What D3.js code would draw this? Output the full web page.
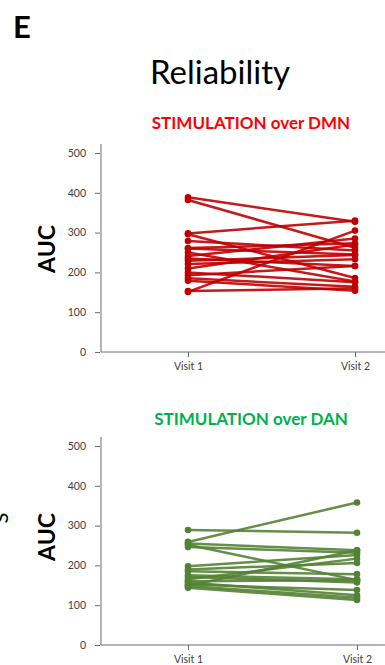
<!DOCTYPE html>
<html lang="en">
<head>
    <meta charset="UTF-8">
    <title>Reliability</title>
    <script src="https://d3js.org/d3.v7.min.js"></script>
    <style>
        body { margin: 0; background: #fff; }
        svg text { font-family: Lato, "Liberation Sans", sans-serif; }
    </style>
</head>
<body>
    <div id="chart"></div>
    <script>
        // data (AUC per subject, visit 1 -> visit 2)
        var visits = ['Visit 1', 'Visit 2'];
        var yTicks = [0, 100, 200, 300, 400, 500];
        var dmnVisit1 = [389, 382, 298, 296, 279, 261, 250, 241, 229, 221, 210, 193, 185, 179, 151, 153, 200, 235, 260];
        var dmnVisit2 = [327, 262, 330, 186, 255, 273, 177, 285, 244, 233, 270, 216, 164, 154, 305, 160, 175, 216, 245];
        var danVisit1 = [289, 259, 252, 246, 255, 198, 190, 185, 171, 165, 157, 149, 144, 152, 160, 148, 175];
        var danVisit2 = [282, 358, 163, 232, 238, 226, 206, 178, 157, 217, 125, 238, 113, 138, 163, 119, 165];

        var width = 385,
            height = 665;

        var svg = d3.select('#chart')
            .append('svg')
            .attr('width', width)
            .attr('height', height);

        svg.append('text')
            .attr('x', 13)
            .attr('y', 38)
            .attr('font-size', '31px')
            .attr('font-weight', 'bold')
            .text('E');

        svg.append('text')
            .attr('x', 220)
            .attr('y', 84)
            .attr('text-anchor', 'middle')
            .attr('font-size', '33px')
            .text('Reliability');

        // clipped label bit at the left edge
        svg.append('text')
            .attr('transform', 'translate(8,518) rotate(-90)')
            .attr('text-anchor', 'middle')
            .attr('font-size', '20px')
            .text('S');

        function drawPanel(opt) {
            var g = svg.append('g');

            var y = d3.scaleLinear()
                .domain([0, 500])
                .range([opt.y0, opt.y500]);
            var x = d3.scalePoint()
                .domain(visits)
                .range(opt.xr);

            g.append('text')
                .attr('x', 251)
                .attr('y', opt.titleY)
                .attr('text-anchor', 'middle')
                .attr('font-size', '17px')
                .attr('font-weight', 'bold')
                .attr('fill', opt.titleColor)
                .text(opt.title);

            g.append('text')
                .attr('transform', 'translate(55,' + opt.aucY + ') rotate(-90)')
                .attr('text-anchor', 'middle')
                .attr('font-size', '23px')
                .attr('font-weight', 'bold')
                .text('AUC');

            // axis lines
            g.append('line')
                .attr('x1', 101).attr('x2', 101)
                .attr('y1', opt.yTop).attr('y2', opt.y0)
                .attr('stroke', '#6b6b6b');
            g.append('line')
                .attr('x1', 101).attr('x2', 385)
                .attr('y1', opt.y0).attr('y2', opt.y0)
                .attr('stroke', '#6b6b6b');

            var ay = g.append('g')
                .attr('transform', 'translate(100,0)')
                .call(d3.axisLeft(y).tickValues(yTicks).tickSize(5).tickPadding(9));
            ay.select('.domain').remove();
            ay.selectAll('line').attr('stroke', '#6b6b6b');
            ay.selectAll('text').attr('font-size', '10.5px').attr('fill', '#404040');

            var ax = g.append('g')
                .attr('transform', 'translate(0,' + opt.y0 + ')')
                .call(d3.axisBottom(x).tickSize(5).tickPadding(6));
            ax.select('.domain').remove();
            ax.selectAll('line').attr('stroke', '#6b6b6b');
            ax.selectAll('text').attr('font-size', '10.5px').attr('fill', '#404040');

            var pairs = opt.v1.map(function (d, i) { return [d, opt.v2[i]]; });

            g.append('g')
                .selectAll('line')
                .data(pairs)
                .enter()
                .append('line')
                .attr('x1', x(visits[0]))
                .attr('x2', x(visits[1]))
                .attr('y1', function (d) { return y(d[0]); })
                .attr('y2', function (d) { return y(d[1]); })
                .attr('stroke', opt.color)
                .attr('stroke-width', 2.5)
                .attr('stroke-opacity', 0.9);

            var dots = [];
            pairs.forEach(function (d) {
                dots.push([visits[0], d[0]]);
                dots.push([visits[1], d[1]]);
            });
            g.append('g')
                .selectAll('circle')
                .data(dots)
                .enter()
                .append('circle')
                .attr('cx', function (d) { return x(d[0]); })
                .attr('cy', function (d) { return y(d[1]); })
                .attr('r', 3.3)
                .attr('fill', opt.color);
        }

        drawPanel({
            title: 'STIMULATION over DMN', titleColor: '#ff0000', titleY: 129,
            color: '#c00000', v1: dmnVisit1, v2: dmnVisit2,
            y0: 352, y500: 153, yTop: 144, xr: [188, 355], aucY: 249
        });
        drawPanel({
            title: 'STIMULATION over DAN', titleColor: '#00b050', titleY: 425,
            color: '#548235', v1: danVisit1, v2: danVisit2,
            y0: 645, y500: 446, yTop: 437, xr: [188, 357], aucY: 537
        });
    </script>
</body>
</html>
